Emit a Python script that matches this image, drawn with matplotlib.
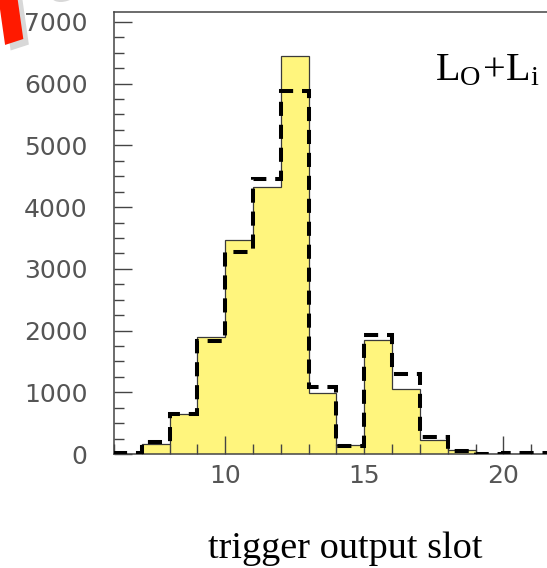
import matplotlib
matplotlib.use("Agg")
import matplotlib.pyplot as plt
import matplotlib.patheffects as pe
import numpy as np

plt.rcParams['mathtext.fontset'] = 'custom'
plt.rcParams['mathtext.rm'] = 'Liberation Serif'
plt.rcParams['mathtext.it'] = 'Liberation Serif:italic'

# ---- data ----
bin_edges = list(range(6, 23))
solid_counts = [0, 170, 640, 1900, 3470, 4320, 6450, 990, 150, 1840, 1060, 230, 65, 0, 0, 0]
dashed_counts = [10, 200, 640, 1830, 3280, 4450, 5880, 1080, 130, 1930, 1290, 280, 50, 5, 15, 10]
x_major = [10, 15, 20]
y_major = [0, 1000, 2000, 3000, 4000, 5000, 6000, 7000]
x_label = "trigger output slot"
panel_label = r"$\mathrm{L_O\!+\!L_i}$"
watermark = "Draft"

W, H = 547, 568
fig = plt.figure(figsize=(W / 100, H / 100), dpi=100)
left_px, right_px = 114, 559
bottom_px, top_px = 454, 12
ax = fig.add_axes([left_px / W, (H - bottom_px) / H,
                   (right_px - left_px) / W, (bottom_px - top_px) / H])

ax.stairs(solid_counts, bin_edges, fill=True, color='#fff57d', zorder=1)
ax.stairs(solid_counts, bin_edges, color='#3a3a3a', lw=0.9, zorder=2)
ax.stairs(dashed_counts, bin_edges, color='black', lw=2.9,
          linestyle=(0, (3.5, 2.2)), zorder=3)

ax.set_xlim(6, 22)
ax.set_ylim(0, 7160)
ax.set_xticks(x_major)
ax.set_xticks(np.arange(6, 23, 1), minor=True)
ax.set_yticks(y_major)
ax.set_yticks(np.arange(0, 7001, 250), minor=True)

for s in ax.spines.values():
    s.set_color('#444444')
    s.set_linewidth(1.1)

ax.tick_params(which='both', direction='in', color='#444444', width=1.0,
               labelcolor='#555555', labelsize=18)
ax.tick_params(which='major', length=13)
ax.tick_params(which='minor', length=7)
ax.tick_params(axis='y', which='major', pad=19)
ax.tick_params(axis='x', which='major', pad=7)
ax.tick_params(top=False, right=False)

fig.text(345 / W, (H - 558) / H, x_label, family='Liberation Serif',
         fontsize=27.5, ha='center', va='baseline', color='black')
fig.text(435 / W, (H - 80) / H, panel_label, fontsize=29,
         ha='left', va='baseline', color='black')

# watermark, mostly outside the canvas
fig.text(-228 / W, (H - 88) / H, watermark, family='Liberation Serif',
         weight='bold', style='italic', fontsize=105, color='#ff1a00',
         rotation=18, rotation_mode='anchor', ha='left', va='baseline',
         path_effects=[pe.SimplePatchShadow(offset=(4, -4),
                                            shadow_rgbFace='#d8d8d8', alpha=1),
                       pe.Normal()])

fig.savefig("out.png", dpi=100)
